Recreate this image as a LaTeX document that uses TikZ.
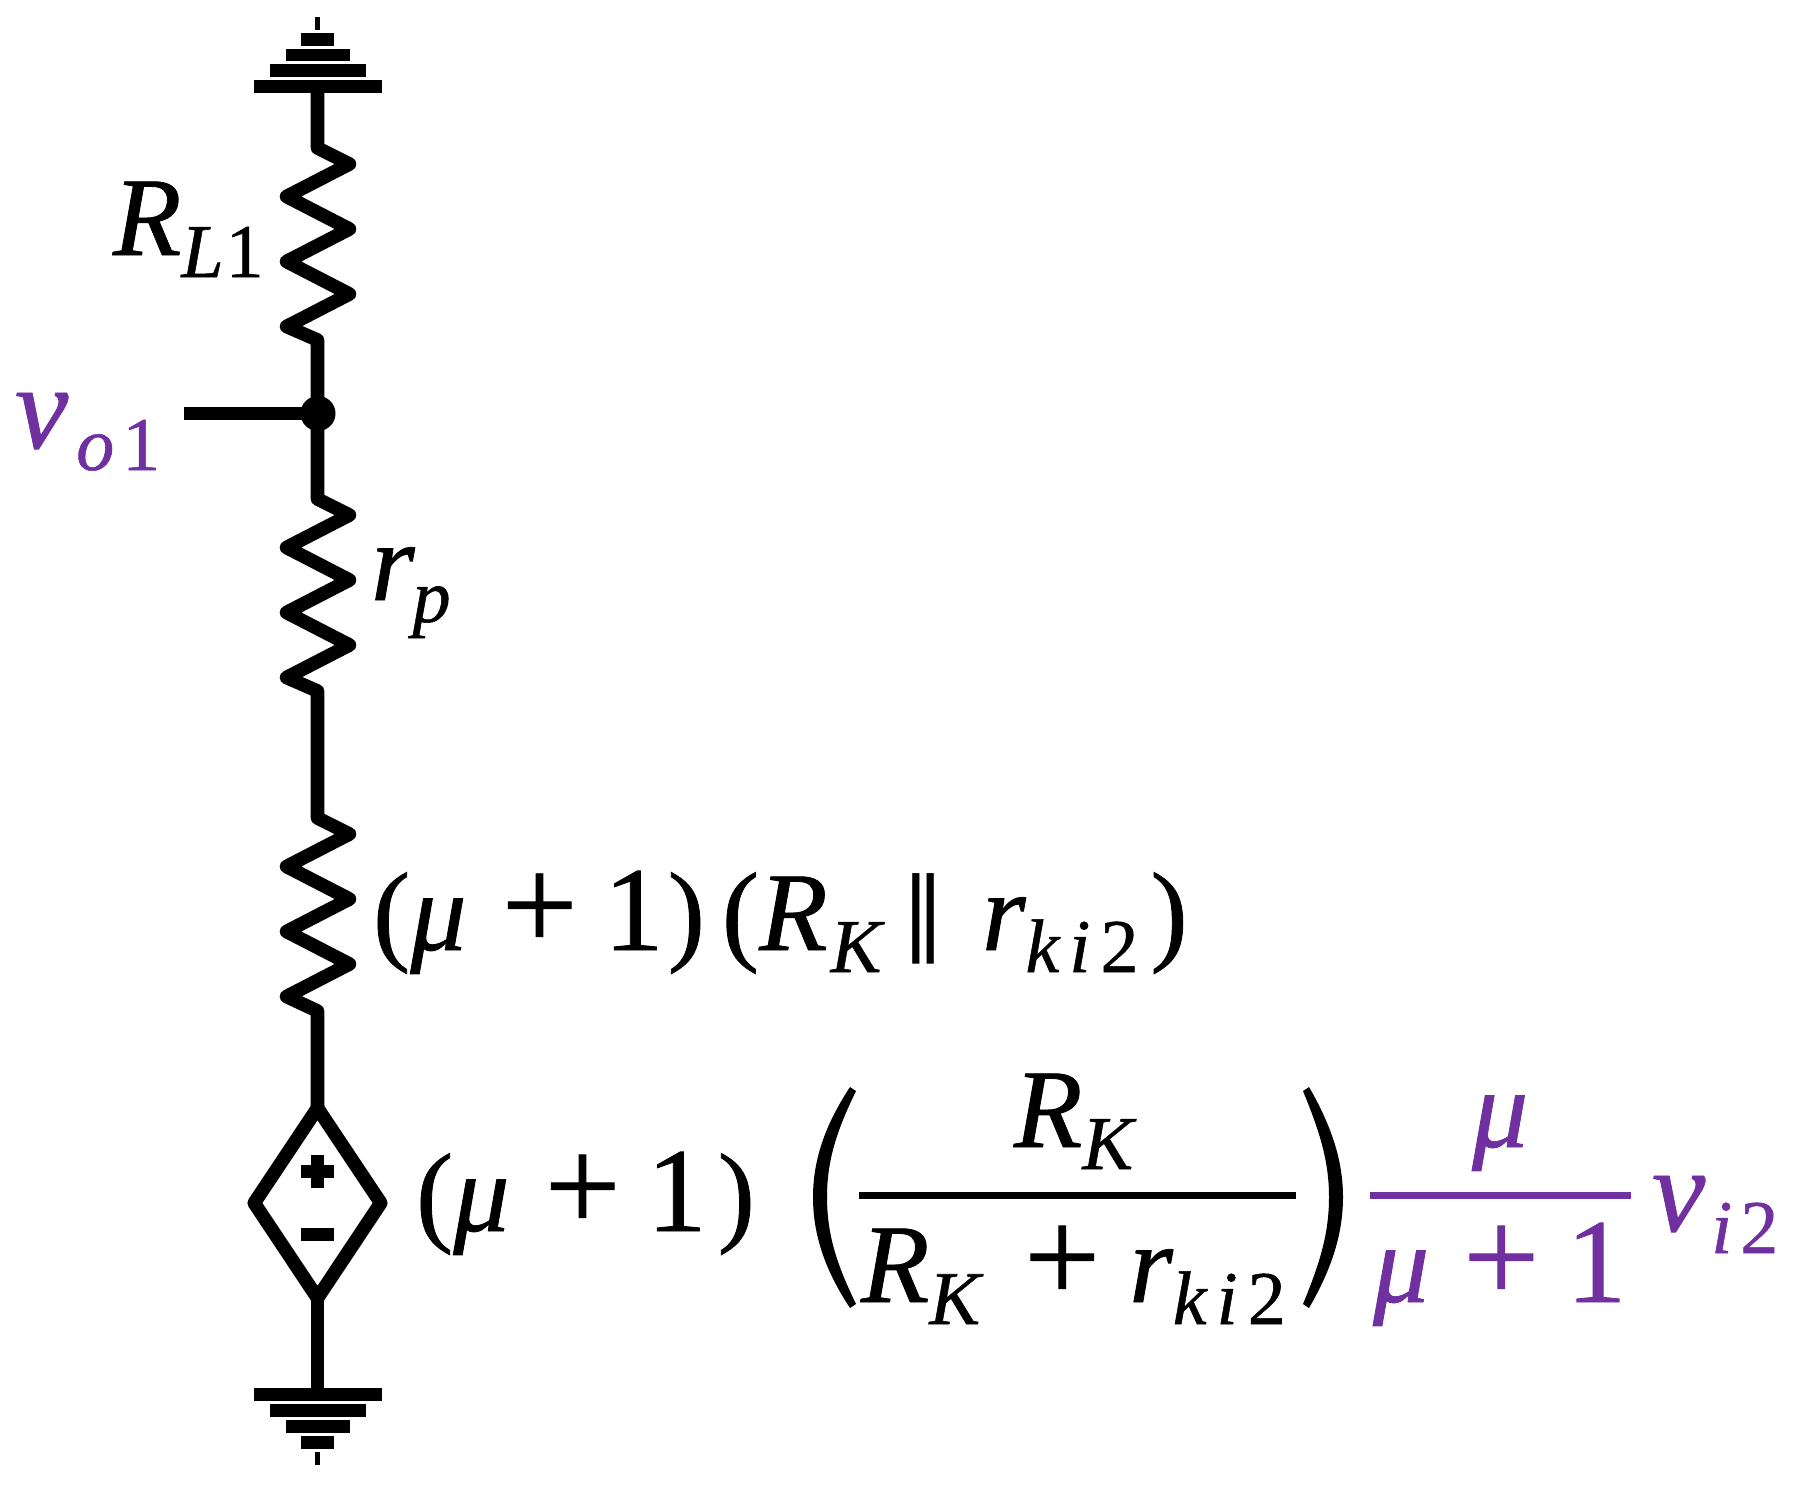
\documentclass[tikz,border=0pt]{standalone}
\usepackage{fontspec}
\setmainfont{Liberation Serif}[FakeBold=0.7]
\newfontfamily\symfont{DejaVu Sans}
\definecolor{vio}{HTML}{7030A0}
\newcommand\dgt[1]{{\upshape #1}}
\newcommand\subs[1]{\raisebox{-22pt}{\fontsize{76}{76}\selectfont\itshape #1}}
\newcommand\upr[1]{{\upshape #1}}
\newcommand\plusg{{\upshape\fontsize{135}{135}\selectfont +}}
\newcommand\onem{{\upshape\fontsize{120}{120}\selectfont 1}}
\newcommand\bigv{{\fontsize{120}{120}\selectfont v}}
\newcommand\kisub{\subs{k\hspace{10pt}i\hspace{10pt}\dgt{2}}}
\newcommand\gpa[1]{\hspace{#1pt}}
\newcommand\mufac[1]{\upr{(}μ\gpa{35}\plusg\gpa{26}\onem\gpa{#1}\upr{)}}
\tikzset{
  wire/.style={line width=13pt,line join=round,line cap=butt},
  zigwire/.style={line width=13.6pt,line join=round,line cap=butt},
  lbl/.style={anchor=base west,inner sep=0pt,outer sep=0pt,font=\fontsize{112}{112}\selectfont\itshape},
  vlbl/.style={lbl,text=vio},
  fracbar/.style={line width=7pt}
}
\newcommand\groundplates[1]{%
  \foreach \hw/\yy/\th in {#1}{\fill (317.5-\hw,\yy) rectangle (317.5+\hw,\yy+\th);}
}
\begin{document}
\begin{tikzpicture}[x=1pt,y=-1pt]
\useasboundingbox (0,0) rectangle (1801,1488);
% ground plates
\groundplates{64/80/13,48/64/13,32/49/12,16.5/33/13,2.5/17/13}
\groundplates{64/1388/13,48/1404/13,32/1420/13,16.5/1436/13,2.5/1452/13}
% wire coordinates
\coordinate (gt) at (317.5,90);
\coordinate (gb) at (317.5,1390);
\coordinate (r1a) at (317.5,148);
\coordinate (r1b) at (317.5,340);
\coordinate (j) at (317.5,413.5);
\coordinate (stub) at (184,413.5);
\coordinate (r2a) at (317.5,499);
\coordinate (r2b) at (317.5,691);
\coordinate (r3a) at (317.5,818);
\coordinate (r3b) at (317.5,1011);
\coordinate (dt) at (317.5,1108);
\coordinate (db) at (317.5,1298);
\coordinate (dl) at (254.2,1203);
\coordinate (dr) at (380.8,1203);
\draw[zigwire] (gt) -- (r1a) -- ++(32,16) -- ++(-63,32.5) -- ++(63,32.5) -- ++(-63,32.5) -- ++(63,32.5) -- ++(-63,32.5) -- (r1b) -- (j) -- (r2a)
   -- ++(32,16) -- ++(-63,32.5) -- ++(63,32.5) -- ++(-63,32.5) -- ++(63,32.5) -- ++(-63,32.5) -- (r2b) -- (r3a)
   -- ++(32,16) -- ++(-63,32.5) -- ++(63,32.5) -- ++(-63,32.5) -- ++(63,32.5) -- ++(-63,32.5) -- (r3b) -- (dt);
\draw[zigwire] (dt) -- (dr) -- (db) -- (dl) -- cycle;
\draw[wire] (db) -- (gb);
\draw[wire] (stub) -- (j);
\node[circle,fill=black,inner sep=0pt,minimum size=35pt] (dot) at (318,413.5) {};
% polarity
\fill (301,1165) rectangle (334,1178);
\fill (311,1155) rectangle (324,1188);
\fill (301,1228) rectangle (334,1241);
% labels
\node[lbl] (rl) at (113,255) {R\subs{L\hspace{2pt}\dgt{1}}};
\node[vlbl] (vo) at (15,448) {\bigv\hspace{8pt}\subs{o\hspace{8pt}\dgt{1}}};
\node[lbl] (rp) at (371,600) {r\subs{\hspace{-2pt}p}};
\node[lbl] (mida) at (373,950) {\mufac{4}\gpa{17}\upr{(}R\hspace{3pt}\subs{K}};
\node[lbl,anchor=center,font=\symfont\fontsize{92}{92}\selectfont] (par) at (923,919) {∥};
\node[lbl] (midb) at (982,950) {r\kisub\hspace{12pt}\upr{)}};
\node[lbl] (src) at (416,1231) {\mufac{11}};
\node[lbl] (num) at (1014,1147) {R\subs{K}};
\node[lbl] (den) at (861,1302) {R\subs{K}\gpa{44}\plusg\gpa{29}r\kisub};
\node[vlbl] (mu) at (1472,1147) {μ};
\node[vlbl] (mud) at (1373,1302) {μ\gpa{34}\plusg\gpa{27}\onem};
\node[vlbl] (vi) at (1652,1231) {\bigv\hspace{6pt}\subs{i\hspace{8pt}\dgt{2}}};
% fraction bars
\draw[fracbar] (859,1195) -- (1296,1195);
\draw[fracbar,vio] (1370,1195) -- (1631,1195);
% big parentheses
\fill (850,1087) .. controls (825,1125) and (813,1160) .. (813,1197) .. controls (813,1235) and (825,1270) .. (850,1308)
  -- (856,1304) .. controls (837,1265) and (827,1235) .. (827,1197) .. controls (827,1160) and (837,1130) .. (856,1091) -- cycle;
\fill (1309,1087) .. controls (1331,1125) and (1343,1160) .. (1343,1197) .. controls (1343,1235) and (1331,1270) .. (1309,1308)
  -- (1303,1304) .. controls (1319,1265) and (1329,1235) .. (1329,1197) .. controls (1329,1160) and (1319,1130) .. (1303,1091) -- cycle;
\end{tikzpicture}
\end{document}
